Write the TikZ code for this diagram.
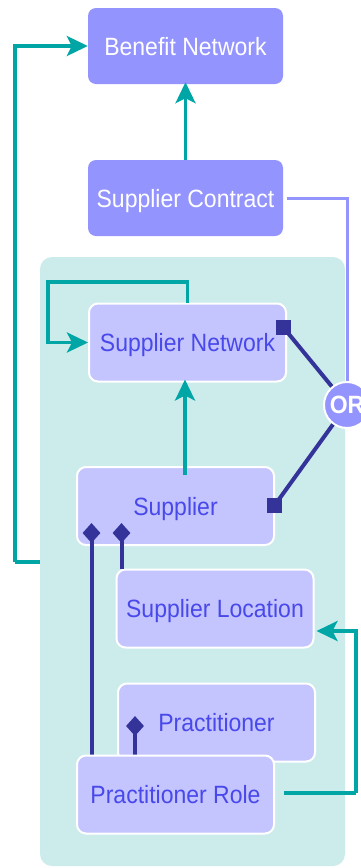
\documentclass[tikz,border=0pt]{standalone}
\usepackage{fontspec}
\setmainfont[FakeStretch=0.92]{Liberation Sans}
\usetikzlibrary{arrows.meta,shapes.geometric}
\definecolor{darkbox}{RGB}{148,148,255}
\definecolor{lightbox}{RGB}{196,196,255}
\definecolor{panel}{RGB}{204,236,236}
\definecolor{tealline}{RGB}{0,166,166}
\definecolor{navy}{RGB}{51,51,153}
\definecolor{boxtext}{RGB}{72,72,235}
\tikzset{
  darknode/.style={rectangle, rounded corners=8pt, fill=darkbox, text=white,
    minimum width=195pt, minimum height=76pt, inner sep=0pt, text height=18pt, text depth=0pt,
    font=\fontsize{25}{28}\selectfont},
  lightnode/.style={rectangle, rounded corners=9pt, fill=lightbox, draw=white, line width=2pt,
    text=boxtext, minimum width=197pt, minimum height=78pt, inner sep=0pt, text height=18pt,
    text depth=0pt, font=\fontsize{25}{28}\selectfont},
  flow/.style={draw=tealline, line width=3.5pt,
    -{Stealth[length=21pt,width=20pt,inset=5pt]}},
  flowline/.style={draw=tealline, line width=3.5pt},
  link/.style={draw=navy, line width=4pt},
  sqmark/.style={rectangle, fill=navy, minimum size=15pt, inner sep=0pt},
  diamark/.style={diamond, fill=navy, minimum width=18pt, minimum height=20pt, inner sep=0pt},
}
\begin{document}
\begin{tikzpicture}[x=1pt,y=-1pt]
\useasboundingbox (0,0) rectangle (360,868);
\fill[white] (0,0) rectangle (360,868);

% shaded area holding the supplier entities
\node[rectangle, rounded corners=12pt, fill=panel, minimum width=305pt, minimum height=609pt,
  inner sep=0pt] (cont) at (192.5,561.5) {};

% top-level entities
\node[darknode] (bn) at (185.5,46) {Benefit Network};
\node[darknode] (sc) at (185.5,198) {Supplier Contract};

% entities inside the shaded area
\node[lightnode] (sn) at (187.5,342.5) {Supplier Network};
\node[lightnode] (sup) at (175.5,506) {Supplier};
\node[lightnode] (sl) at (215,608.5) {Supplier Location};
\node[lightnode] (pr) at (216.5,722.5) {Practitioner};

% OR junction
\node[circle, fill=darkbox, draw=white, line width=2pt, minimum size=46pt, inner sep=0pt,
  text=white, font=\bfseries\fontsize{25}{27}\selectfont] (or) at (347,405) {OR};

% contract to the OR junction
\draw[draw=darkbox, line width=3pt] ([xshift=4pt]sc.east) -| (or.north);

% OR links with square ends
\node[sqmark] (sqa) at (283.5,327.5) {};
\node[sqmark] (sqb) at (274.5,505.5) {};
\draw[link] (sqa.center) -- (or);
\draw[link] (sqb.center) -- (or);

% composition links with diamond ends
\coordinate (roletop) at (0,755);
\node[diamark] (d1) at (91.5,533) {};
\node[diamark] (d2) at (121.5,533) {};
\draw[link] (d1.center) -- (d1.center |- roletop);
\draw[link] (d2.center) -- (d2.center |- sl.north);
\node[diamark] (d3) at (135,726) {};
\draw[link] (d3.center) -- (d3.center |- roletop);

% role box sits over the practitioner box
\node[lightnode] (prr) at (175.5,794.5) {Practitioner Role};

% teal flows
\draw[flow] (sc.north) -- ([yshift=2pt]bn.south);
\coordinate (lp) at (15,562);
\draw[flowline] (cont.west |- lp) -- (lp);
\draw[flow] (lp) |- (bn.west);
\coordinate (loopL) at (48,282);
\draw[flow] (sn.north) |- (loopL) |- (sn.west);
\coordinate (upx) at (185,0);
\draw[flow] ([yshift=-9pt]upx |- sup.north) -- ([yshift=3pt]upx |- sn.south);
\coordinate (rr) at (356,793);
\coordinate (slin) at (0,631);
\draw[flowline] ([xshift=9pt]prr.east |- rr) -- (rr);
\draw[flow] (rr) |- ([xshift=2pt]sl.east |- slin);
\end{tikzpicture}
\end{document}
